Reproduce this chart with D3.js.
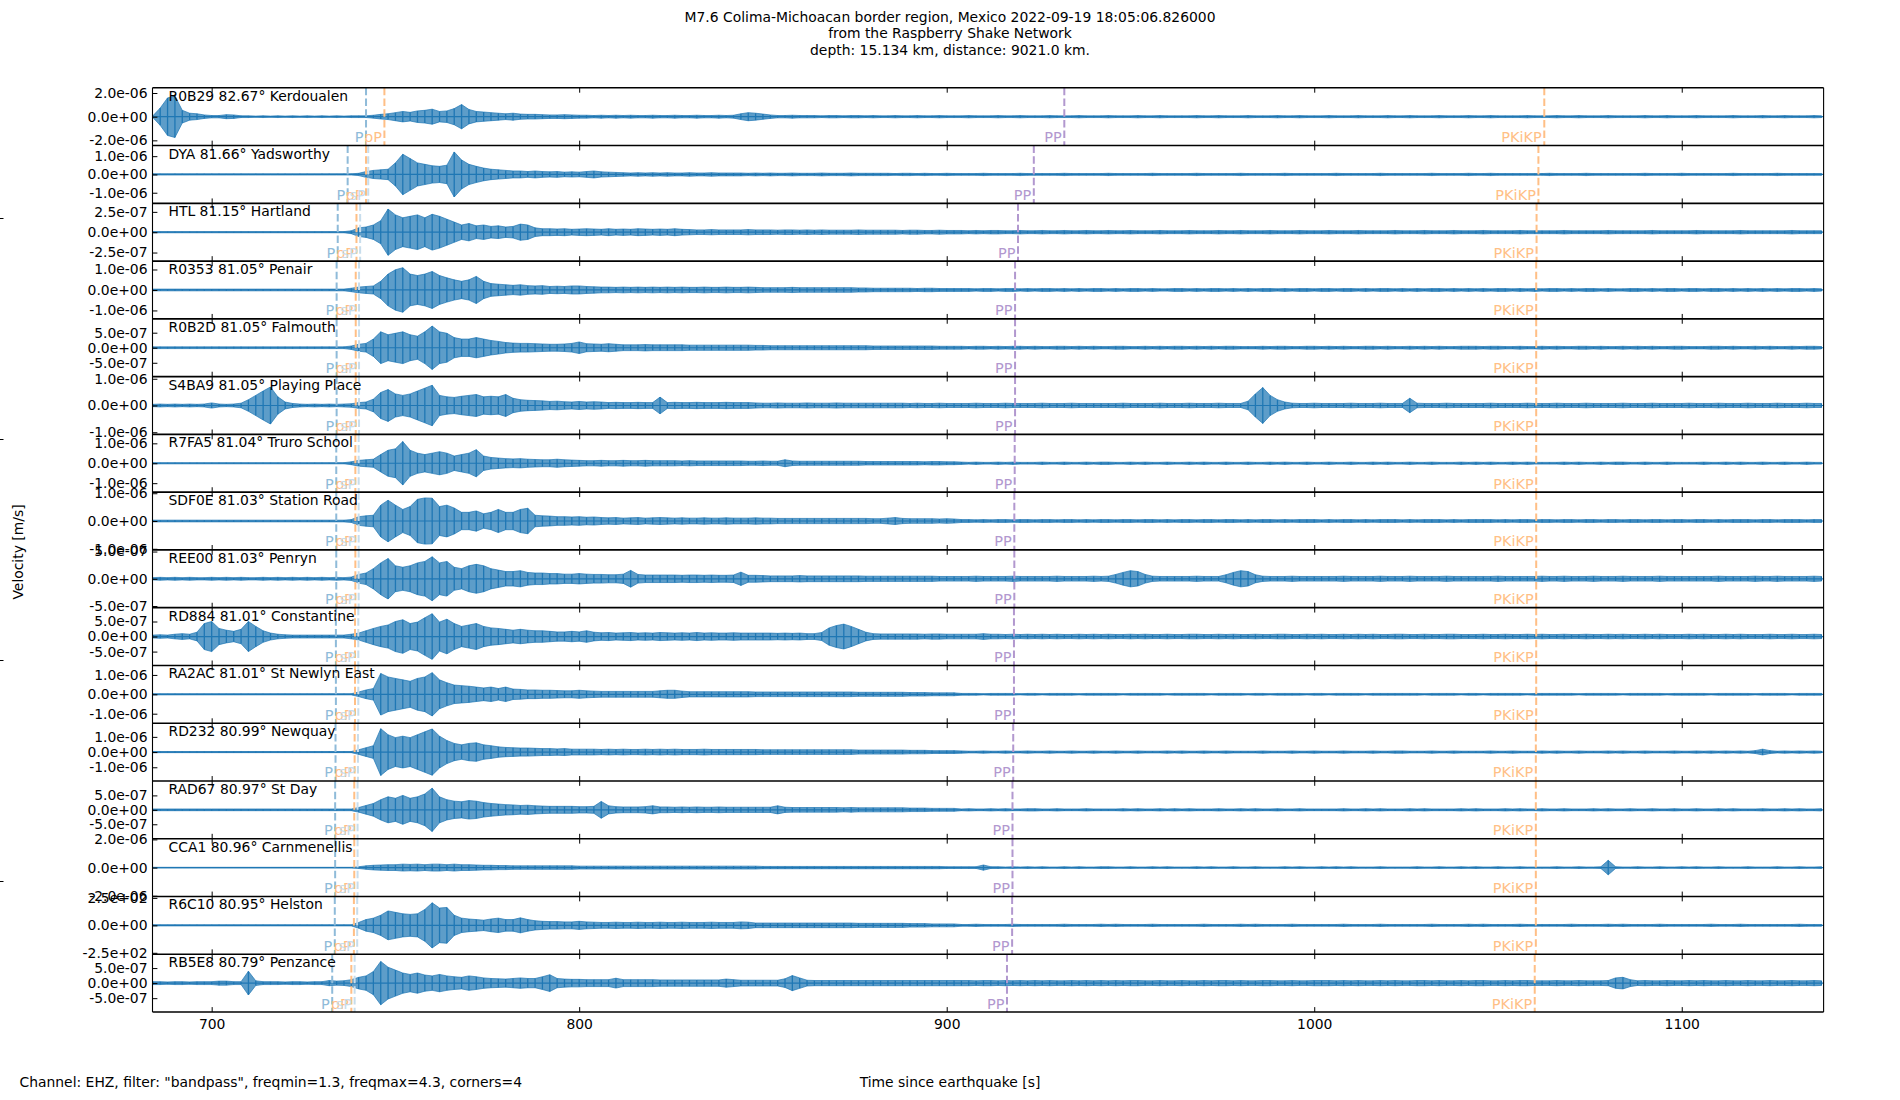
<!DOCTYPE html>
<html>
<head>
<meta charset="utf-8">
<script src="https://cdn.jsdelivr.net/npm/d3@7"></script>
<style>
  body { margin: 0; background: #fff; }
  svg text { font-family: "DejaVu Sans", sans-serif; }
</style>
</head>
<body>
<script>
// station list, top to bottom
const stationCodes = ["R0B29", "DYA", "HTL", "R0353", "R0B2D", "S4BA9", "R7FA5", "SDF0E",
  "REE00", "RD884", "RA2AC", "RD232", "RAD67", "CCA1", "R6C10", "RB5E8"];
const distances = ["82.67", "81.66", "81.15", "81.05", "81.05", "81.05", "81.04", "81.03",
  "81.03", "81.01", "81.01", "80.99", "80.97", "80.96", "80.95", "80.79"];
const places = ["Kerdoualen", "Yadsworthy", "Hartland", "Penair", "Falmouth", "Playing Place",
  "Truro School", "Station Road", "Penryn", "Constantine", "St Newlyn East", "Newquay",
  "St Day", "Carnmenellis", "Helston", "Penzance"];

// y tick value (+/-) and y limit of every panel
const tickValues = [2e-6, 1e-6, 2.5e-7, 1e-6, 5e-7, 1e-6, 1e-6, 1e-6, 5e-7, 5e-7, 1e-6, 1e-6, 5e-7, 2e-6, 250, 5e-7];
const yLimits = [2.44e-6, 1.58e-6, 3.55e-7, 1.41e-6, 9.6e-7, 1.08e-6, 1.45e-6, 1.04e-6, 5.3e-7, 9.6e-7, 1.49e-6, 1.9e-6, 1.0e-6, 2.05e-6, 263, 9.6e-7];

// phase arrival times [s]
const pTimes = [742.0, 737.0, 734.3, 734.0, 734.0, 734.0, 733.9, 733.9, 733.9, 733.8, 733.8, 733.7, 733.6, 733.6, 733.5, 732.8];
const pPTimes = [747.0, 742.0, 739.4, 739.2, 739.2, 739.2, 739.1, 739.1, 739.1, 739.0, 739.0, 738.9, 738.8, 738.8, 738.7, 738.0];
const sPTimes = [null, 742.6, 740.4, 740.1, 740.1, 740.1, 740.0, 740.0, 740.0, 739.9, 739.9, 739.8, 739.7, 739.7, 739.6, 738.9];
const ppTimes = [932.0, 923.7, 919.4, 918.6, 918.6, 918.6, 918.5, 918.4, 918.4, 918.3, 918.3, 918.1, 917.9, 917.9, 917.8, 916.4];
const pkikpTimes = [1062.6, 1061.0, 1060.5, 1060.4, 1060.4, 1060.4, 1060.4, 1060.4, 1060.4, 1060.4, 1060.4, 1060.3, 1060.3, 1060.3, 1060.3, 1060.0];

const xTicks = [700, 800, 900, 1000, 1100];

// trace peak amplitude, % of panel y limit, one value every 2 s from 684 s
const sampleStart = 684, sampleStep = 2;
const ampR0B29 = [
  3,30,65,72,22,12,10,6,4,4, 7,6,3,3,2,3,2,3,2,3, 2,3,2,3,2,3,2,3,3,3,
  5,8,10,14,18,15,20,22,26,18, 20,28,42,25,18,16,14,12,10,12, 9,8,8,7,6,6,7,6,5,5,
  4,5,4,5,4,5,4,4,5,4, 4,5,4,4,5,4,4,5,4,5, 10,14,12,9,6,4,4,5,4,4,
  4,3,4,4,3,4,4,3,4,3, 3,4,3,3,4,3,3,4,3,3, 3,4,3,3,3,4,3,3,4,3,
  3,3,4,3,3,3,4,3,3,3, 4,3,3,3,4,3,3,4,3,3, 3,3,4,3,3,4,3,3,3,4,
  3,3,3,4,3,3,4,3,3,3, 4,3,3,3,4,3,3,3,4,3, 3,4,3,3,3,4,3,3,3,4,
  3,3,4,3,3,3,3,4,3,3, 3,4,3,3,4,3,3,3,4,3, 3,3,3,4,3,3,4,3,3,3,
  4,3,3,3,3,4,3,3,3,4, 3,3,4,3,3,3,4,3];
const ampDYA = [
  2,2,2,2,2,2,2,2,2,2, 2,2,2,2,2,2,2,2,2,2, 2,2,2,2,2,2,2,2,4,10,
  14,16,18,40,70,55,40,35,30,28, 32,78,50,35,28,22,18,16,14,12, 12,10,12,10,9,10,8,9,8,10,
  12,9,8,7,6,5,6,5,6,5, 6,5,5,6,5,5,6,5,5,5, 5,4,5,4,5,4,4,5,4,4,
  4,5,4,4,4,5,4,4,4,4, 4,3,4,4,3,4,3,3,4,3, 3,3,3,4,3,3,3,3,4,3,
  3,3,3,3,4,3,3,3,3,3, 4,3,3,3,3,3,4,3,3,3, 3,3,4,3,3,3,3,3,4,3,
  3,3,3,3,4,3,3,3,3,3, 3,4,3,3,3,3,3,4,3,3, 3,3,3,3,4,3,3,3,3,4,
  3,3,4,3,3,3,3,3,3,3, 4,3,3,3,3,4,3,3,3,3, 3,3,3,4,3,3,3,3,4,3,
  3,3,3,3,3,4,3,3,3,3, 3,4,3,3,3,3,3,3];
const ampHTL = [
  2,2,2,2,2,2,2,2,2,2, 2,2,2,2,2,2,2,2,2,2, 2,2,2,2,2,2,2,5,15,18,
  25,40,80,60,50,55,60,50,62,55, 45,35,25,30,22,25,20,22,18,20, 28,25,15,12,12,11,12,10,11,12,
  11,10,12,10,11,10,12,11,10,11, 10,12,10,9,8,8,9,8,8,8, 8,9,8,8,8,7,8,8,7,8,
  7,8,7,7,7,7,8,7,7,7, 7,7,6,7,7,6,6,7,6,6, 6,5,6,5,6,6,5,5,6,5,
  5,6,5,5,6,5,5,6,5,5, 6,5,5,6,5,5,5,6,5,5, 5,6,5,5,5,6,5,5,6,5,
  5,5,6,5,5,5,6,5,5,5, 6,5,5,5,6,5,5,5,5,6, 5,5,5,6,5,5,5,6,5,5,
  5,6,5,5,5,5,6,5,5,5, 5,5,6,5,5,5,5,5,6,5, 5,5,5,5,6,5,5,5,5,5,
  6,5,5,5,5,5,6,5,5,5, 5,5,5,6,5,5,5,5];
const ampR0353 = [
  3,3,3,3,3,3,3,3,3,3, 3,3,3,3,3,3,3,3,3,3, 3,3,3,3,3,3,3,6,10,12,
  14,30,55,70,77,55,50,55,64,50, 42,35,30,35,47,30,22,20,18,16, 18,15,14,15,12,13,12,14,14,12,
  11,10,10,9,10,9,10,9,10,9, 10,9,10,9,9,10,9,9,10,9, 9,10,9,8,8,8,8,9,8,8,
  8,8,8,8,8,8,7,7,6,6, 6,6,6,6,5,6,6,5,5,5, 5,5,4,5,5,4,5,5,4,5,
  4,5,5,4,5,4,5,4,5,5, 4,5,4,5,5,4,5,4,4,5, 5,4,5,4,5,5,4,5,4,5,
  4,5,5,4,5,4,5,5,4,5, 5,4,5,5,4,5,4,5,5,4, 5,4,5,4,5,5,4,5,4,5,
  4,5,4,5,5,4,5,4,5,4, 5,5,4,5,4,5,5,4,5,4, 4,5,5,4,5,4,5,5,4,5,
  5,4,5,5,4,5,4,5,4,5, 4,5,4,5,5,4,5,4];
const ampR0B2D = [
  3,3,3,3,3,3,3,3,3,3, 3,3,3,3,3,3,3,3,3,3, 3,3,3,3,3,3,3,6,12,15,
  30,55,45,50,55,45,40,55,75,55, 50,35,30,30,35,30,25,22,18,16, 15,15,14,13,12,12,13,15,20,14,
  13,12,14,12,10,10,10,11,10,10, 10,10,10,9,9,9,9,9,9,9, 9,9,8,8,7,7,7,7,7,7,
  7,7,7,7,7,7,7,7,6,6, 6,6,6,6,6,6,6,5,5,5, 5,4,5,5,4,5,4,5,5,4,
  5,4,4,5,5,4,5,4,5,4, 4,5,5,4,4,5,4,5,4,5, 5,4,5,4,5,4,5,5,4,4,
  4,5,4,5,5,4,4,5,5,4, 5,4,5,4,4,5,5,4,5,4, 4,5,4,5,4,5,4,4,5,5,
  5,4,5,5,4,4,5,4,4,5, 4,5,4,4,5,5,4,5,4,4, 5,4,5,4,5,4,4,5,5,4,
  4,4,5,5,4,5,4,4,5,4, 5,4,4,5,4,5,5,4];
const ampS4BA9 = [
  4,5,4,5,4,5,4,5,9,5, 4,5,8,20,35,50,64,30,12,7, 5,4,5,4,5,4,5,6,10,12,
  22,45,55,40,35,40,50,60,70,35, 30,28,32,35,38,30,32,30,38,25, 20,18,17,16,14,15,13,12,14,12,
  13,12,10,11,10,10,11,10,10,29, 10,11,10,10,11,10,10,10,11,10, 10,10,9,8,8,9,8,8,8,9,
  8,8,8,9,8,8,8,8,8,8, 8,8,8,7,8,7,7,8,7,7, 7,7,8,7,7,7,8,7,7,7,
  7,8,7,7,7,8,7,7,7,7, 7,7,8,7,7,7,7,8,7,7, 7,8,7,7,7,8,7,7,7,15,
  40,62,35,20,12,8,7,7,8,7, 7,7,7,8,7,7,7,8,7,7, 7,25,8,7,7,7,8,7,7,7,
  7,7,8,7,7,7,7,8,7,7, 7,8,7,7,7,8,7,7,7,7, 8,7,7,7,8,7,7,7,7,8,
  7,7,7,8,7,7,7,8,7,7, 7,8,7,7,7,8,7,7];
const ampR7FA5 = [
  2,2,2,2,2,2,2,2,2,2, 2,2,2,2,2,2,2,2,2,2, 2,2,2,2,2,2,2,5,10,12,
  14,30,45,50,75,45,35,30,35,40, 35,25,30,35,47,25,20,18,16,15, 16,14,13,12,12,14,12,11,10,9,
  9,10,9,9,10,9,9,10,9,9, 9,9,8,9,8,8,8,8,8,8, 8,7,7,8,7,7,12,8,7,7,
  7,7,7,7,7,7,7,6,6,6, 6,6,6,6,6,5,6,6,5,5, 4,3,4,3,3,4,3,4,3,3,
  3,4,3,3,4,3,3,4,3,4, 4,3,3,4,3,4,3,3,4,3, 3,4,3,4,3,3,4,3,3,4,
  3,3,4,3,4,3,3,4,3,3, 4,3,3,4,3,3,4,3,4,3, 3,4,3,3,4,3,3,3,4,3,
  4,3,4,3,3,4,3,4,3,3, 3,3,4,3,4,3,3,4,3,4, 4,3,3,4,3,3,4,3,3,3,
  3,4,3,3,4,3,4,3,3,4, 3,3,4,3,3,4,3,3];
const ampSDF0E = [
  3,3,3,3,3,3,3,3,3,3, 3,3,3,3,3,3,3,3,3,3, 3,3,3,3,3,3,3,5,15,18,
  20,55,72,55,40,50,75,80,79,50, 55,45,30,30,35,25,30,40,30,30, 40,44,20,18,17,15,15,14,15,13,
  14,12,11,12,10,11,12,10,11,12, 11,10,11,10,10,11,10,10,11,10, 10,10,11,10,10,9,9,9,9,9,
  9,9,9,9,9,9,9,9,8,8, 10,12,9,8,8,8,8,7,8,7, 5,5,4,5,4,5,5,4,5,5,
  4,5,5,4,5,5,4,5,4,5, 5,4,5,5,4,5,5,4,5,4, 5,5,4,5,5,4,5,5,4,5,
  4,5,5,4,5,4,5,5,5,4, 5,4,5,5,4,5,4,5,5,5, 4,5,4,5,5,5,4,5,4,5,
  5,5,5,4,5,4,5,5,4,5, 5,4,5,5,4,5,5,4,5,5, 4,5,5,4,5,5,4,5,5,4,
  5,5,4,5,4,5,5,5,4,5, 5,4,5,5,5,4,5,5];
const ampREE00 = [
  4,5,4,5,4,5,4,4,5,4, 5,4,5,4,4,5,4,5,4,5, 4,5,4,5,4,5,4,6,15,20,
  35,55,70,45,40,45,55,60,76,55, 60,40,35,45,50,45,35,30,25,25, 28,22,20,20,18,18,16,16,18,16,
  15,15,14,14,16,29,15,13,13,13, 13,13,12,13,13,12,13,12,12,13, 23,12,12,11,10,10,10,10,11,10,
  10,10,10,10,10,10,10,9,9,9, 9,9,9,9,9,9,9,8,8,8, 8,8,9,8,8,8,8,9,8,8,
  8,8,8,9,8,8,8,8,9,8, 9,15,22,28,25,15,9,8,8,8, 8,8,9,8,8,8,14,22,28,25,
  14,9,8,8,8,9,8,8,8,8, 8,8,9,8,8,8,8,9,8,8, 8,9,8,8,8,8,9,8,8,8,
  8,8,8,9,8,8,8,8,8,9, 8,8,9,8,8,8,9,8,8,8, 9,8,8,8,8,9,8,8,8,8,
  8,8,8,9,8,8,8,8,9,8, 8,9,8,8,8,8,9,8];
const ampRD884 = [
  5,6,5,8,10,8,15,45,52,28, 22,18,25,52,35,20,12,8,6,5, 5,5,5,5,5,5,5,8,12,20,
  28,35,40,52,58,45,50,65,79,50, 60,45,35,40,45,35,30,28,25,22, 25,22,20,20,18,16,16,18,16,20,
  15,13,14,12,13,14,12,13,12,14, 13,12,13,12,14,12,13,12,12,13, 12,12,12,12,12,11,12,11,12,10,
  10,14,30,38,43,35,25,15,10,9, 9,9,9,9,9,8,9,9,8,8, 8,8,8,10,8,8,7,8,7,8,
  7,8,7,8,7,7,8,7,8,7, 8,7,7,8,7,8,7,7,8,7, 7,8,8,7,7,8,7,8,7,7,
  8,7,7,8,8,7,7,8,7,8, 7,7,8,7,8,7,8,7,7,8, 8,7,7,8,7,7,8,8,7,7,
  7,8,7,7,8,7,7,8,7,8, 7,7,8,7,7,8,7,7,8,7, 8,7,7,8,7,8,7,7,7,8,
  7,8,7,7,8,7,8,7,7,7, 8,7,7,8,7,7,8,7];
const ampRA2AC = [
  2,2,2,2,2,2,2,2,2,2, 2,2,2,2,2,2,2,2,2,2, 2,2,2,2,2,2,2,2,8,15,
  20,72,60,55,50,45,55,60,75,50, 40,32,30,28,25,22,25,20,25,18, 17,15,15,14,14,13,12,12,14,12,
  11,10,10,10,10,10,10,10,10,12, 14,14,11,9,9,9,9,9,9,9, 9,9,8,8,8,8,8,8,8,8,
  8,8,8,8,8,8,7,7,7,7, 7,7,7,6,6,6,5,5,5,5, 3,3,3,2,3,3,3,3,2,3,
  3,2,3,3,3,3,2,3,3,3, 3,3,2,3,3,3,3,3,2,3, 3,3,3,3,2,3,3,3,3,2,
  3,3,2,3,3,3,3,2,3,3, 2,3,3,3,3,2,3,3,3,3, 3,3,3,2,3,3,3,3,2,3,
  3,2,3,3,3,3,3,2,3,3, 3,3,3,3,2,3,3,3,3,3, 2,3,3,3,3,3,2,3,3,3,
  3,3,2,3,3,3,3,3,2,3, 3,3,3,2,3,3,3,3];
const ampRD232 = [
  2,2,2,2,2,2,2,2,2,2, 2,2,2,2,2,2,2,2,2,2, 2,2,2,2,2,2,2,2,8,15,
  22,81,60,50,55,50,60,70,80,55, 40,30,25,30,32,25,22,18,16,15, 14,14,13,12,12,11,12,10,10,10,
  10,9,10,9,10,9,9,10,9,10, 9,10,9,9,9,10,9,9,9,9, 9,9,9,8,8,8,8,8,8,8,
  8,8,8,8,8,8,7,7,7,7, 7,7,7,6,6,6,5,5,5,5, 4,3,3,4,3,3,4,3,3,4,
  3,3,4,3,3,4,3,3,4,3, 3,4,3,3,4,3,3,3,4,3, 4,3,3,4,3,3,4,3,3,3,
  3,4,3,3,3,4,3,3,4,3, 3,3,4,3,3,3,4,3,3,4, 4,3,3,3,4,3,3,4,3,3,
  3,3,4,3,3,4,3,3,3,4, 3,4,3,3,4,3,3,3,4,3, 4,3,3,4,3,3,3,4,3,3,
  4,3,4,3,4,3,4,3,5,10, 5,3,4,3,4,3,4,3];
const ampRAD67 = [
  3,3,3,3,3,3,3,3,3,3, 3,3,3,3,3,3,3,3,3,3, 3,3,3,3,3,3,3,3,8,15,
  22,35,45,40,50,40,45,55,75,45, 35,30,28,32,30,25,22,20,18,17, 15,16,14,13,12,12,12,12,11,11,
  12,29,14,11,10,10,10,11,14,10, 10,9,10,9,10,9,9,10,9,9, 9,9,9,9,9,14,9,8,8,8,
  8,8,8,8,7,8,7,7,7,7, 7,7,7,6,6,6,5,5,5,5, 3,4,3,3,4,3,4,3,3,4,
  4,3,3,4,3,3,3,4,3,3, 3,3,4,3,4,3,3,4,3,4, 3,4,3,3,3,4,3,3,4,3,
  4,3,3,4,3,3,4,3,3,3, 3,3,4,3,3,4,3,4,3,3, 3,4,3,4,3,3,3,3,4,3,
  4,3,3,3,4,3,4,3,3,4, 3,3,4,3,3,3,4,3,4,3, 3,4,3,3,4,3,3,4,3,3,
  4,3,3,4,3,4,3,3,3,4, 3,3,4,3,4,3,3,4];
const ampCCA1 = [
  1,1,1,1,1,1,1,1,1,1, 1,1,1,1,1,1,1,1,1,1, 1,1,1,1,1,1,1,1,3,6,
  8,9,10,10,12,11,12,10,12,12, 10,12,10,10,9,8,8,7,7,6, 6,6,6,6,6,6,6,6,5,5,
  5,5,5,5,5,5,5,5,5,5, 5,5,5,5,5,5,5,5,5,5, 5,5,5,4,4,4,4,4,4,4,
  4,4,4,4,4,4,4,4,4,4, 4,4,4,4,4,4,4,4,3,3, 3,3,3,9,3,3,2,3,2,3,
  2,3,2,2,3,2,3,2,2,3, 3,2,2,3,2,2,3,2,3,2, 2,2,3,2,3,2,2,3,2,2,
  3,2,2,2,3,2,3,2,2,3, 2,3,2,3,2,2,2,3,2,2, 2,2,3,2,2,3,2,2,3,2,
  3,2,2,3,2,2,3,2,2,2, 2,3,2,2,3,2,2,3,25,3, 2,2,3,2,2,3,2,2,3,2,
  3,2,2,3,2,2,2,3,2,2, 2,3,2,2,3,2,2,3];
const ampR6C10 = [
  2,2,2,2,2,2,2,2,2,2, 2,2,2,2,2,2,2,2,2,2, 2,2,2,2,2,2,2,2,10,20,
  25,35,50,45,40,38,40,55,78,60, 62,35,25,22,20,18,22,25,20,20, 26,20,16,14,13,13,12,12,14,12,
  11,10,10,11,10,10,11,10,10,11, 10,10,11,10,10,10,11,10,10,10, 12,11,8,8,8,8,8,8,8,8,
  8,8,8,8,8,8,7,7,7,7, 7,7,7,6,6,6,5,5,5,5, 3,3,4,3,3,3,3,4,3,3,
  3,3,3,3,4,3,3,3,3,4, 3,4,3,3,3,3,4,3,3,3, 3,3,3,4,3,3,3,3,4,3,
  4,3,3,3,3,4,3,3,3,3, 3,3,4,3,3,3,3,4,3,3, 3,3,3,3,4,3,3,3,3,4,
  3,4,3,3,3,3,4,3,3,3, 3,3,3,4,3,3,3,3,4,3, 4,3,3,3,3,4,3,3,3,3,
  3,3,4,3,3,3,4,3,3,3, 3,3,3,3,4,3,3,3];
const ampRB5E8 = [
  5,5,4,5,5,4,5,5,5,7, 7,5,5,41,8,5,5,5,4,5, 5,4,5,5,9,7,8,12,20,25,
  40,75,55,45,35,30,35,28,25,30, 25,22,20,25,22,18,16,15,14,16, 18,16,16,22,29,16,14,13,13,12,
  12,12,12,17,12,12,12,12,12,11, 11,11,11,11,11,11,11,11,14,12, 10,10,10,10,10,10,15,26,18,10,
  9,9,9,9,9,9,9,9,9,9, 9,9,9,9,9,9,9,9,9,9, 9,9,8,9,9,8,9,8,9,8,
  9,8,9,8,8,9,8,9,8,9, 8,9,8,9,9,8,8,9,8,8, 9,8,8,9,8,9,9,8,9,8,
  8,9,9,8,8,9,8,8,9,9, 9,8,9,8,9,8,8,9,8,9, 8,8,9,9,8,9,8,8,9,8,
  9,9,8,8,9,8,9,9,8,8, 8,9,8,8,9,8,8,8,9,18, 20,12,8,9,8,8,9,8,8,9,
  8,9,8,8,9,8,8,9,8,8, 9,8,8,9,8,8,9,8];

const amplitudes = [ampR0B29, ampDYA, ampHTL, ampR0353, ampR0B2D, ampS4BA9, ampR7FA5, ampSDF0E,
  ampREE00, ampRD884, ampRA2AC, ampRD232, ampRAD67, ampCCA1, ampR6C10, ampRB5E8];

const phaseNames = ["P", "pP", "sP", "PP", "PKiKP"];
const phaseTimes = [pTimes, pPTimes, sPTimes, ppTimes, pkikpTimes];
const phaseColors = ["#8fbbd9", "#ffbf86", "#c7ddec", "#b298cf", "#ffbf86"];

const titleLines = ["M7.6 Colima-Michoacan border region, Mexico 2022-09-19 18:05:06.826000",
  "from the Raspberry Shake Network", "depth: 15.134 km, distance: 9021.0 km."];

// ticks of the blank full-figure axes behind the panels
const backTicks = [0.2, 0.4, 0.6, 0.8];

// ---- layout
const width = 1900, height = 1100;
const axLeft = 152.5, axRight = 1823.6, axTop = 87.8, axBottom = 1012;
const panelH = (axBottom - axTop) / stationCodes.length;
const traceColor = "#1f77b4";
const fontSize = 13.9;

const svg = d3.select("body").append("svg")
  .attr("width", width)
  .attr("height", height)
  .style("display", "block");

const x = d3.scaleLinear().domain([683.9, 1138.6]).range([axLeft, axRight]);

function fmtExp(v) {
  if (v === 0) return "0.0e+00";
  return v.toExponential(1).replace(/e([+-])(\d)$/, "e$10$2");
}

// title
svg.append("g").selectAll("text")
  .data(titleLines)
  .join("text")
  .attr("x", 950)
  .attr("y", (d, i) => 16.7 + i * 16.7)
  .attr("dominant-baseline", "central")
  .attr("text-anchor", "middle")
  .attr("font-size", fontSize)
  .text(d => d);

stationCodes.forEach((code, i) => {
  const y0 = axTop + i * panelH;
  const y = d3.scaleLinear().domain([-yLimits[i], yLimits[i]]).range([y0 + panelH, y0]);
  const amp = amplitudes[i];
  const tOf = j => sampleStart + j * sampleStep;
  const g = svg.append("g");

  // trace envelope
  const area = d3.area()
    .x((d, j) => x(tOf(j)))
    .y0(d => y(-d / 100 * yLimits[i]))
    .y1(d => y(d / 100 * yLimits[i]));
  g.append("path")
    .datum(amp)
    .attr("d", area)
    .attr("fill", traceColor)
    .attr("fill-opacity", 0.72)
    .attr("stroke", traceColor)
    .attr("stroke-width", 0.7);

  // one spike per sample
  g.append("g").selectAll("line")
    .data(amp)
    .join("line")
    .attr("x1", (d, j) => x(tOf(j)))
    .attr("x2", (d, j) => x(tOf(j)))
    .attr("y1", d => y(d / 100 * yLimits[i]))
    .attr("y2", d => y(-d / 100 * yLimits[i]))
    .attr("stroke", traceColor)
    .attr("stroke-width", 1.3);

  g.append("line")
    .attr("x1", axLeft).attr("x2", axRight)
    .attr("y1", y(0)).attr("y2", y(0))
    .attr("stroke", traceColor)
    .attr("stroke-width", 1.2);

  // phase markers
  phaseNames.forEach((name, k) => {
    const t = phaseTimes[k][i];
    if (t == null) return;
    g.append("line")
      .attr("x1", x(t)).attr("x2", x(t))
      .attr("y1", y0).attr("y2", y0 + panelH)
      .attr("stroke", phaseColors[k])
      .attr("stroke-width", 2)
      .attr("stroke-dasharray", "7.5,3.2");
    g.append("text")
      .attr("x", x(t) - 2.5)
      .attr("y", y0 + panelH - 3.5)
      .attr("text-anchor", "end")
      .attr("font-size", 14.5)
      .attr("fill", phaseColors[k])
      .text(name);
  });

  // y axis
  const yAxis = g.append("g")
    .attr("transform", `translate(${axLeft},0)`)
    .call(d3.axisLeft(y)
      .tickValues([-tickValues[i], 0, tickValues[i]])
      .tickFormat(fmtExp)
      .tickSize(-4.9)
      .tickPadding(5));
  yAxis.select(".domain").remove();
  yAxis.selectAll("text").attr("font-size", fontSize).attr("font-family", "DejaVu Sans");

  // x ticks top and bottom, labels only on the last panel
  const isLast = i === stationCodes.length - 1;
  const xb = g.append("g")
    .attr("transform", `translate(0,${y0 + panelH})`)
    .call(d3.axisBottom(x)
      .tickValues(xTicks)
      .tickSize(-4.9)
      .tickPadding(7)
      .tickFormat(isLast ? d3.format("d") : () => ""));
  xb.select(".domain").remove();
  xb.selectAll("text").attr("font-size", fontSize).attr("font-family", "DejaVu Sans");
  const xt = g.append("g")
    .attr("transform", `translate(0,${y0})`)
    .call(d3.axisTop(x).tickValues(xTicks).tickSize(-4.9).tickFormat(() => ""));
  xt.select(".domain").remove();

  // station label
  g.append("text")
    .attr("x", 168.5)
    .attr("y", y0 + 13)
    .attr("font-size", fontSize)
    .text(`${code} ${distances[i]}° ${places[i]}`);
});

// frames
const frame = svg.append("g").attr("stroke", "#000").attr("fill", "none");
d3.range(stationCodes.length + 1).forEach(i => {
  frame.append("line")
    .attr("x1", axLeft).attr("x2", axRight)
    .attr("y1", axTop + i * panelH).attr("y2", axTop + i * panelH)
    .attr("stroke-width", 1.6);
});
frame.append("line").attr("x1", axLeft).attr("x2", axLeft).attr("y1", axTop).attr("y2", axBottom).attr("stroke-width", 1.1);
frame.append("line").attr("x1", axRight).attr("x2", axRight).attr("y1", axTop).attr("y2", axBottom).attr("stroke-width", 1.1);

// leftover ticks of the blank background axes at the left edge
const backY = d3.scaleLinear().domain([0, 1]).range([1102, -3]);
const back = svg.append("g")
  .call(d3.axisLeft(backY).tickValues(backTicks).tickSize(-3.5).tickFormat(() => ""));
back.select(".domain").remove();

// shared labels
svg.append("text")
  .attr("transform", "translate(18,552) rotate(-90)")
  .attr("text-anchor", "middle")
  .attr("dominant-baseline", "central")
  .attr("font-size", fontSize)
  .text("Velocity [m/s]");
svg.append("text")
  .attr("x", 950).attr("y", 1081.7)
  .attr("text-anchor", "middle")
  .attr("dominant-baseline", "central")
  .attr("font-size", fontSize)
  .text("Time since earthquake [s]");
svg.append("text")
  .attr("x", 19.5).attr("y", 1081.7)
  .attr("dominant-baseline", "central")
  .attr("font-size", fontSize)
  .text('Channel: EHZ, filter: "bandpass", freqmin=1.3, freqmax=4.3, corners=4');
</script>
</body>
</html>
